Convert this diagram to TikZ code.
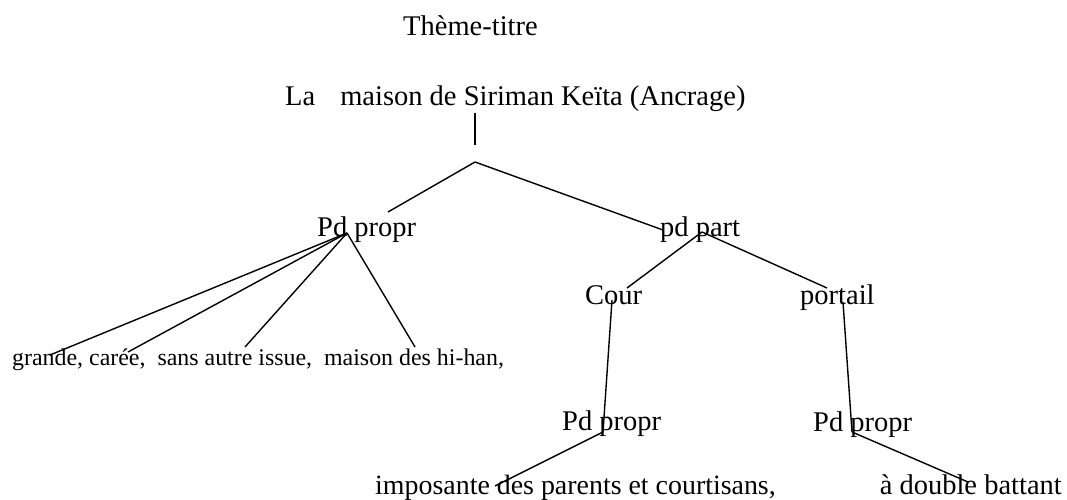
\documentclass[tikz,border=0pt]{standalone}
\usepackage{fontspec}
\setmainfont{Liberation Serif}
\begin{document}
\begin{tikzpicture}[x=1pt,y=-1pt,
  lbl/.style={inner sep=0pt,anchor=base west,font=\fontsize{28.5}{34}\selectfont},
  leaf/.style={inner sep=0pt,anchor=base west,font=\fontsize{23.9}{28}\selectfont},
  edge/.style={line width=1.4pt,black}]
\useasboundingbox (0,0) rectangle (1067,500);
% texts
\node[lbl] (titre) at (403,36) {Thème-titre};
\node[lbl] (maison) at (285,106) {La\hspace{25pt}maison de Siriman Keïta (Ancrage)};
\node[lbl] (pdprop1) at (317,236) {Pd propr};
\node[leaf] (qual1) at (12,365) {grande, carée,\ \ sans autre issue,\ \ maison des hi-han,};
\node[lbl] (pdpart) at (660,236) {pd part};
\node[lbl] (cour) at (585,304) {Cour};
\node[lbl] (portail) at (800,304) {portail};
\node[lbl] (pdprop2) at (562,430) {Pd propr};
\node[lbl] (pdprop3) at (813,431) {Pd propr};
\node[lbl,font=\fontsize{27.9}{34}\selectfont] (qual2) at (375,494) {imposante des parents et courtisans,};
\node[lbl,anchor=base east] (qual3) at (1062,494) {à double battant};
% junction points
\coordinate (stemtop) at (475,113);
\coordinate (stembot) at (475,145);
\coordinate (apex) at (475,162);
\coordinate (toprop) at (388,212);
\coordinate (topart) at (663,230);
\coordinate (jprop1) at (347,233);
\coordinate (l1) at (50,355);
\coordinate (l2) at (128,352);
\coordinate (l3) at (245,347);
\coordinate (l4) at (415,347);
\coordinate (jpart) at (702,232);
\coordinate (tocour) at (627,288);
\coordinate (toportail) at (827,288);
\coordinate (jcour) at (612,300);
\coordinate (jprop2) at (603,432);
\coordinate (jportail) at (843,302);
\coordinate (jprop3) at (852,432);
\coordinate (l5) at (495,486);
\coordinate (l6) at (968,482);
% connectors
\draw[edge] (stemtop) -- (stembot);
\draw[edge] (apex) -- (toprop);
\draw[edge] (apex) -- (topart);
\draw[edge] (jprop1) -- (l1);
\draw[edge] (jprop1) -- (l2);
\draw[edge] (jprop1) -- (l3);
\draw[edge] (jprop1) -- (l4);
\draw[edge] (jpart) -- (tocour);
\draw[edge] (jpart) -- (toportail);
\draw[edge] (jcour) -- (jprop2);
\draw[edge] (jportail) -- (jprop3);
\draw[edge] (jprop2) -- (l5);
\draw[edge] (jprop3) -- (l6);
\end{tikzpicture}
\end{document}
